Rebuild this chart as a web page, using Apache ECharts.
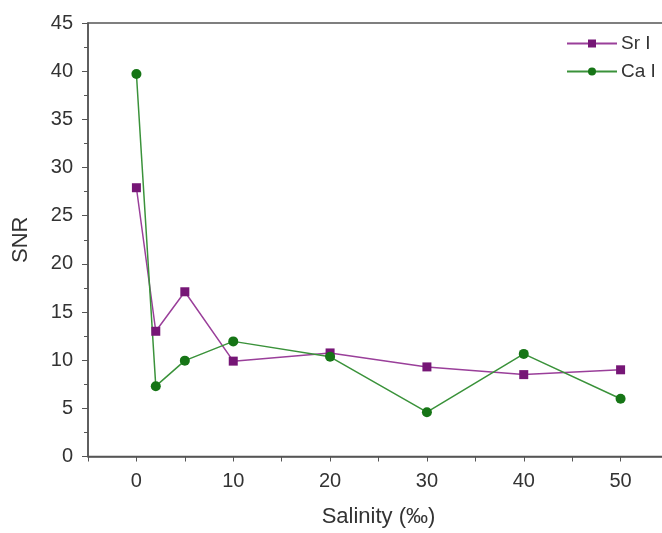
<!DOCTYPE html>
<html><head><meta charset="utf-8">
<script src="https://cdn.jsdelivr.net/npm/echarts@6/dist/echarts.min.js"></script>
<style>html,body{margin:0;padding:0;background:#fff}#c{width:662px;height:533px}</style>
</head><body><div id="c"></div>
<script>
var salinity = [0, 2, 5, 10, 20, 30, 40, 50];
var srI = [27.9, 13.0, 17.1, 9.9, 10.75, 9.3, 8.5, 9.0];
var caI = [39.7, 7.3, 9.95, 11.95, 10.35, 4.6, 10.65, 6.0];
var seriesNames = ['Sr I', 'Ca I'];

function pairs(xs, ys) { return xs.map(function (x, i) { return [x, ys[i]]; }); }

var chart = echarts.init(document.getElementById('c'), null, {renderer: 'canvas'});
var font = 'Liberation Sans, Arial, sans-serif';
chart.setOption({
  animation: false,
  backgroundColor: '#fff',
  grid: {left: 88, top: 23, width: 581, height: 433.5, show: true, borderColor: '#555', borderWidth: 1.5,
         backgroundColor: 'transparent', containLabel: false, outerBoundsMode: 'none'},
  legend: {
    orient: 'vertical', left: 561, top: 29, itemWidth: 50, itemHeight: 10, itemGap: 9,
    textStyle: {fontFamily: font, fontSize: 19, color: '#333', padding: [0, 0, 0, -1]},
    data: seriesNames
  },
  xAxis: {
    type: 'value', min: -5, max: 55, interval: 5,
    name: 'Salinity (‰)', nameLocation: 'middle', nameGap: 49,
    nameTextStyle: {fontFamily: font, fontSize: 22, color: '#333'},
    axisLine: {show: true, onZero: false, lineStyle: {color: '#555', width: 1.5}},
    axisTick: {show: true, length: 5, lineStyle: {color: '#555'}},
    axisLabel: {margin: 15, fontFamily: font, fontSize: 20, color: '#333',
      formatter: function (v) { return (v % 10 === 0 && v >= 0 && v <= 50) ? String(v) : ''; }},
    splitLine: {show: false}
  },
  yAxis: {
    type: 'value', min: 0, max: 45, interval: 5,
    name: 'SNR', nameLocation: 'middle', nameGap: 56,
    nameTextStyle: {fontFamily: font, fontSize: 22, color: '#333'},
    axisLine: {show: true, onZero: false, lineStyle: {color: '#555', width: 1.5}},
    axisTick: {show: true, length: 6, lineStyle: {color: '#555'}},
    minorTick: {show: true, splitNumber: 2, length: 4, lineStyle: {color: '#555'}},
    axisLabel: {margin: 15, fontFamily: font, fontSize: 20, color: '#333'},
    splitLine: {show: false}
  },
  series: [
    {name: seriesNames[0], type: 'line', data: pairs(salinity, srI), symbol: 'rect', symbolSize: 9,
     lineStyle: {color: '#9a3f9a', width: 1.5}, itemStyle: {color: '#761676'}},
    {name: seriesNames[1], type: 'line', data: pairs(salinity, caI), symbol: 'circle', symbolSize: 10,
     lineStyle: {color: '#3a923a', width: 1.5}, itemStyle: {color: '#167516'}}
  ]
});
</script></body></html>
